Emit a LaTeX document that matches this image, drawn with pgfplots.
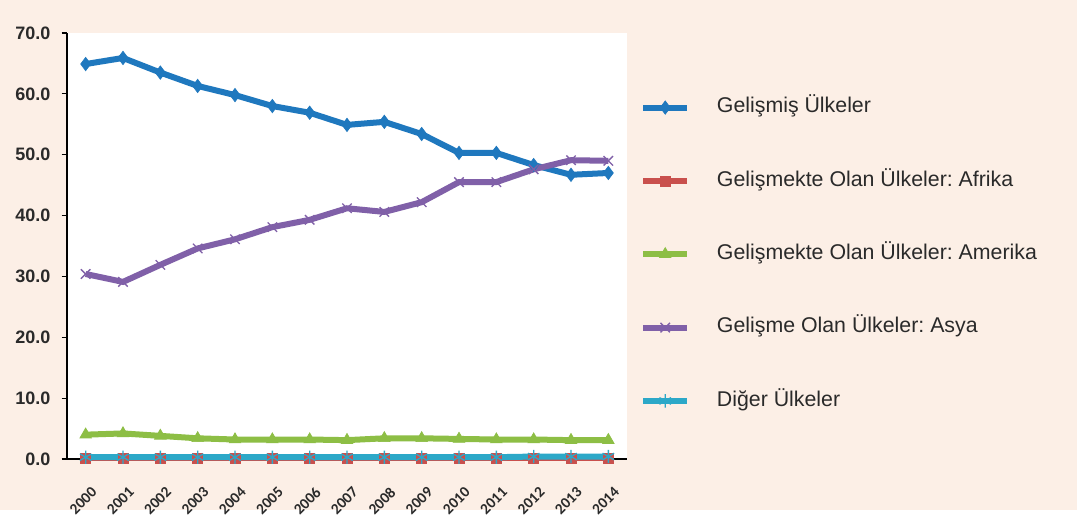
\documentclass[border=0pt]{standalone}
\usepackage{pgfplots}
\pgfplotsset{compat=1.18}
\usepackage{fontspec}
\setmainfont{Liberation Sans}
\newfontfamily\carlito{Carlito}
\definecolor{bgpink}{HTML}{FCEFE6}
\definecolor{cblue}{HTML}{1F78BE}
\definecolor{cred}{HTML}{C9504D}
\definecolor{cgreen}{HTML}{8DBE45}
\definecolor{cpurple}{HTML}{8060A8}
\definecolor{ccyan}{HTML}{2CA8C8}
\definecolor{txt}{HTML}{2A2A2A}
\begin{document}
\frenchspacing
\begin{tikzpicture}[x=0.75pt,y=0.75pt]
\fill[bgpink] (0,0) rectangle (1077,510);
\begin{axis}[
  at={(67*0.75pt,51*0.75pt)}, anchor=south west,
  scale only axis, width=420pt, height=319.5pt,
  axis background/.style={fill=white},
  axis lines=left, axis line style={-, black, line width=0.8pt},
  xmin=-0.5, xmax=14.5, ymin=0, ymax=70,
  xtick={0,...,14},
  xticklabels={2000,2001,2002,2003,2004,2005,2006,2007,2008,2009,2010,2011,2012,2013,2014},
  minor xtick={-0.5,0.5,...,14.5},
  ytick={0,10,...,70},
  tick align=outside,
  major tick length=4pt, minor tick length=4pt,
  xtick style={draw=none},
  minor tick style={black, line width=0.8pt},
  ytick style={black, line width=0.8pt},
  /pgf/number format/assume math mode=true,
  yticklabel={\pgfmathprintnumber[fixed,fixed zerofill,precision=1]{\tick}},
  yticklabel style={font=\fontsize{13.5}{14}\selectfont\bfseries, text=txt, xshift=-5pt},
  xticklabel style={font=\carlito\fontsize{11.5}{12}\selectfont\bfseries, text=txt, rotate=45, anchor=north east, inner sep=1pt, xshift=-8pt, yshift=-13pt},
  legend style={at={(1.016,0.86)}, anchor=north west, draw=none, fill=none,
    font=\fontsize{16}{18}\selectfont, text=txt,
    row sep=37pt, column sep=0pt,
    nodes={text height=11pt, text depth=3pt, inner xsep=0pt},
    /tikz/every odd column/.append style={column sep=20pt}},
  legend cell align=left,
  legend image code/.code={\draw[mark repeat=2,mark phase=2] plot coordinates {(0pt,0pt) (16.5pt,0pt) (33pt,0pt)};},
  every axis plot/.append style={line width=4.5pt, mark options={solid}},
  clip=false,
]
\addplot[cblue, mark=diamond*, mark size=5pt, mark options={line width=0.5pt}] coordinates {
(0,64.9)(1,65.9)(2,63.5)(3,61.3)(4,59.8)(5,58.0)(6,56.9)(7,54.9)(8,55.4)(9,53.4)(10,50.3)(11,50.3)(12,48.3)(13,46.7)(14,47.0)};
\addlegendentry{Gelişmiş Ülkeler}
\addplot[cred, mark=square*, mark size=3.8pt, mark options={line width=0.5pt}] coordinates {
(0,0.1)(1,0.1)(2,0.1)(3,0.1)(4,0.1)(5,0.1)(6,0.1)(7,0.1)(8,0.1)(9,0.1)(10,0.1)(11,0.1)(12,0.1)(13,0.1)(14,0.1)};
\addlegendentry{Gelişmekte Olan Ülkeler: Afrika}
\addplot[cgreen, mark=triangle*, mark size=5pt, mark options={line width=0.5pt}] coordinates {
(0,4.0)(1,4.2)(2,3.8)(3,3.4)(4,3.2)(5,3.2)(6,3.2)(7,3.1)(8,3.4)(9,3.4)(10,3.3)(11,3.2)(12,3.2)(13,3.1)(14,3.1)};
\addlegendentry{Gelişmekte Olan Ülkeler: Amerika}
\addplot[cpurple, mark=x, mark size=5pt, mark options={line width=1pt}] coordinates {
(0,30.4)(1,29.1)(2,31.9)(3,34.6)(4,36.1)(5,38.1)(6,39.3)(7,41.2)(8,40.6)(9,42.2)(10,45.5)(11,45.5)(12,47.6)(13,49.1)(14,49.0)};
\addlegendentry{Gelişme Olan Ülkeler: Asya}
\addplot[ccyan, mark=asterisk, mark size=5pt, mark options={line width=1pt}] coordinates {
(0,0.3)(1,0.3)(2,0.3)(3,0.3)(4,0.3)(5,0.3)(6,0.3)(7,0.3)(8,0.3)(9,0.3)(10,0.3)(11,0.3)(12,0.4)(13,0.4)(14,0.4)};
\addlegendentry{Diğer Ülkeler}
\end{axis}
\end{tikzpicture}
\end{document}
